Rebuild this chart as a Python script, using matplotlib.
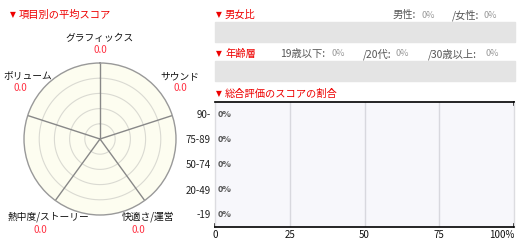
import numpy as np
import matplotlib
matplotlib.use("Agg")
import matplotlib.pyplot as plt
from matplotlib.patches import Rectangle

plt.rcParams['font.family'] = ['Noto Sans CJK JP', 'DejaVu Sans']

# ---- data ----
radar_labels = ["グラフィックス", "サウンド", "快適さ/運営", "熱中度/ストーリー", "ボリューム"]
radar_scores = [0.0, 0.0, 0.0, 0.0, 0.0]

gender_labels = ["男性", "/女性"]
gender_values = [0, 0]

age_labels = ["19歳以下", "/20代", "/30歳以上"]
age_values = [0, 0, 0]

score_bins = ["90-", "75-89", "50-74", "20-49", "-19"]
score_share = [0, 0, 0, 0, 0]
x_ticks = [0, 25, 50, 75, 100]
x_ticklabels = ["0", "25", "50", "75", "100%"]

W, H = 525, 246
DPI = 100
fig = plt.figure(figsize=(W / DPI, H / DPI), dpi=DPI)

RED = "#ee0000"
FS = 7


def fx(x):
    return x / W


def fy(y):
    return 1 - y / H


def rect_axes(x0, y0, x1, y1, **kw):
    return fig.add_axes([fx(x0), fy(y1), (x1 - x0) / W, (y1 - y0) / H], **kw)


def text(x, y, s, **kw):
    kw.setdefault("fontsize", FS)
    kw.setdefault("va", "center")
    return fig.text(fx(x), fy(y), s, **kw)


def heading(x, y, s):
    text(x, y, "▼", color=RED, fontsize=5.5, family=['DejaVu Sans'])
    text(x + 9, y, s, color=RED, fontsize=7.4)


# ---- radar chart ----
heading(10, 15, "項目別の平均スコア")
cx, cy, R = 100, 139, 76
pax = rect_axes(cx - R, cy - R, cx + R, cy + R, projection="polar")
pax.set_theta_offset(np.pi / 2)
pax.set_theta_direction(-1)
pax.set_ylim(0, 5)
pax.set_facecolor("#fdfdf0")
pax.grid(False)
pax.set_xticks([])
pax.set_yticks([])
pax.spines["polar"].set_color("#999999")
pax.spines["polar"].set_linewidth(1.0)

n = len(radar_labels)
theta = np.arange(n) * 2 * np.pi / n
ring_t = np.linspace(0, 2 * np.pi, 200)
for r in [1, 2, 3, 4]:
    pax.plot(ring_t, np.full_like(ring_t, r), color="#dadad2", lw=0.8)
for t in theta:
    pax.plot([t, t], [0, 5], color="#888888", lw=1.0)
vals = np.array(radar_scores + radar_scores[:1])
pax.fill(np.append(theta, theta[0]), vals, color="#ff6666", alpha=0.4)

label_pos = [(100, 38), (180, 76), (148, 217), (48, 217), (28, 76)]
value_pos = [(100, 50), (180, 88), (138, 230), (40, 230), (20, 88)]
for lab, sc, (lx, ly), (vx, vy) in zip(radar_labels, radar_scores, label_pos, value_pos):
    text(lx, ly, lab, ha="center", color="#111111")
    text(vx, vy, f"{sc:.1f}", ha="center", color="#ff3344")

# ---- gender ratio ----
heading(216, 15, "男女比")
g_label_x = [393, 452]
g_value_x = [421, 484]
for lab, v, x, vx in zip(gender_labels, gender_values, g_label_x, g_value_x):
    text(x, 15, lab + ":", color="#555555", fontsize=7.4)
    text(vx, 15, f"{v}%", color="#999999", fontsize=6.5)
fig.patches.append(Rectangle((fx(215), fy(42)), 300 / W, 20 / H,
                             transform=fig.transFigure, color="#e4e4e4", zorder=0))

# ---- age groups ----
heading(216, 54, "年齢層")
a_label_x = [280, 363, 428]
a_value_x = [331, 396, 485]
for lab, v, x, vx in zip(age_labels, age_values, a_label_x, a_value_x):
    text(x, 54, lab + ":", color="#555555", fontsize=7.4)
    text(vx, 54, f"{v}%", color="#999999", fontsize=6.5)
fig.patches.append(Rectangle((fx(215), fy(81)), 300 / W, 20 / H,
                             transform=fig.transFigure, color="#e4e4e4", zorder=0))

# ---- score distribution ----
heading(216, 94, "総合評価のスコアの割合")
bax = rect_axes(215, 102, 514, 227)
bax.set_facecolor("#f7f7fb")
ypos = np.arange(len(score_bins))[::-1]
bax.barh(ypos, score_share, height=0.5, color="#6677cc")
for yp, v in zip(ypos, score_share):
    bax.text(v + 1, yp, f"{v}%", va="center", ha="left", fontsize=6.5,
             color="#555555", fontweight="bold")
bax.set_xlim(0, 100)
bax.set_ylim(-0.5, len(score_bins) - 0.5)
bax.set_yticks(ypos)
bax.set_yticklabels(score_bins, fontsize=FS, color="#222222")
bax.tick_params(axis="y", length=0, pad=3)
bax.set_xticks(x_ticks)
bax.set_xticklabels(x_ticklabels, fontsize=FS, color="#111111")
bax.tick_params(axis="x", length=0, pad=2)
last = bax.get_xticklabels()[-1]
last.set_horizontalalignment("right")
for xv in x_ticks[1:-1]:
    bax.axvline(xv, color="#d8d8de", lw=1.0, zorder=0)
for s in ["top", "bottom"]:
    bax.spines[s].set_color("#000000")
    bax.spines[s].set_linewidth(1.2)
for s in ["left", "right"]:
    bax.spines[s].set_color("#dcdce0")
    bax.spines[s].set_linewidth(1.0)
# short end marks on the frame
bax.plot([0, 0], [-0.5, -0.38], color="#000000", lw=1.2, clip_on=False)
bax.plot([100, 100], [-0.5, -0.38], color="#000000", lw=1.2, clip_on=False)
bax.plot([100, 100], [4.5, 4.38], color="#000000", lw=1.2, clip_on=False)

fig.savefig("out.png", dpi=DPI, facecolor="white")
